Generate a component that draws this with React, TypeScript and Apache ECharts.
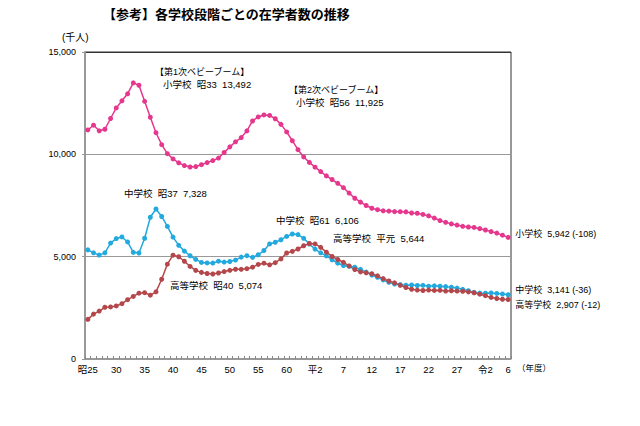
import React, { useEffect, useRef } from "react";
import * as echarts from "echarts";

// 年度 (1950 = 昭25 ... 2024 = 令6)
const years: string[] = [];
for (let y = 1950; y <= 2024; y++) years.push(String(y));

const tickIndex = [0, 5, 10, 15, 20, 25, 30, 35, 40, 45, 50, 55, 60, 65, 70, 74];
const tickText = ["昭25", "30", "35", "40", "45", "50", "55", "60", "平2", "7", "12", "17", "22", "27", "令2", "6"];

// 在学者数 (千人)
const elementary = [
  11191, 11423, 11148, 11225, 11751, 12267, 12616, 12956, 13492, 13375,
  12591, 11811, 11057, 10471, 10031, 9776, 9584, 9452, 9383, 9403,
  9493, 9596, 9696, 9816, 10089, 10365, 10610, 10819, 11146, 11630,
  11827, 11925, 11902, 11739, 11465, 11095, 10665, 10227, 9873, 9607,
  9373, 9157, 8947, 8769, 8583, 8370, 8106, 7855, 7664, 7500,
  7366, 7297, 7239, 7227, 7201, 7197, 7188, 7133, 7122, 7064,
  6993, 6887, 6765, 6677, 6601, 6543, 6484, 6449, 6428, 6369,
  6301, 6223, 6152, 6050, 5942,
];
const juniorHigh = [
  5333, 5188, 5077, 5187, 5664, 5884, 5963, 5719, 5210, 5180,
  5900, 6925, 7328, 6964, 6476, 5957, 5555, 5271, 5044, 4865,
  4717, 4694, 4688, 4780, 4735, 4762, 4833, 4978, 5048, 4966,
  5094, 5300, 5623, 5706, 5828, 5990, 6106, 6081, 5896, 5619,
  5369, 5188, 5036, 4850, 4681, 4570, 4528, 4481, 4381, 4244,
  4104, 3992, 3863, 3748, 3664, 3626, 3602, 3615, 3592, 3600,
  3558, 3574, 3553, 3536, 3504, 3465, 3406, 3333, 3252, 3218,
  3211, 3229, 3205, 3177, 3141,
];
const highSchool = [
  1935, 2193, 2342, 2528, 2545, 2592, 2703, 2898, 3057, 3216,
  3239, 3119, 3282, 3897, 4634, 5074, 4997, 4776, 4522, 4330,
  4232, 4178, 4154, 4201, 4271, 4333, 4386, 4381, 4414, 4485,
  4622, 4682, 4601, 4706, 4892, 5178, 5259, 5375, 5534, 5644,
  5623, 5455, 5219, 5010, 4862, 4725, 4547, 4371, 4258, 4212,
  4165, 4062, 3929, 3810, 3719, 3605, 3495, 3407, 3367, 3348,
  3369, 3349, 3356, 3320, 3334, 3319, 3309, 3280, 3236, 3168,
  3093, 3008, 2957, 2919, 2907,
];

const seriesNames = ["小学校", "中学校", "高等学校"];
const endNotes = ["5,942 (-108)", "3,141 (-36)", "2,907 (-12)"];

const FONT = "'Liberation Sans', 'Noto Sans CJK JP', sans-serif";
const JFONT = "'Noto Sans CJK JP', sans-serif";

export default function App() {
  const ref = useRef<HTMLDivElement>(null);
  useEffect(() => {
    if (!ref.current) return;
    const chart = echarts.init(ref.current, null, { renderer: "svg" });
    const colors = ["#E5378D", "#22A9DE", "#B4474B"];
    const datas = [elementary, juniorHigh, highSchool];
    const endOffsets = [[0, -3], [0, -5], [0, 5]];
    const note = (text: string, x: number, y: number, size = 9.5) => ({
      type: "text",
      left: x,
      top: y - size * 0.7,
      style: { text, fontSize: size, fontFamily: FONT, fill: "#000" },
    });
    chart.setOption({
      animation: false,
      textStyle: { fontFamily: FONT },
      grid: { left: 85, top: 52, right: 129, bottom: 67, show: true, borderColor: "#333", borderWidth: 1 },
      xAxis: {
        type: "category",
        data: years,
        boundaryGap: true,
        axisLine: { lineStyle: { color: "#999", width: 1.5 } },
        axisTick: { show: true, interval: 0, inside: true, length: 3, lineStyle: { color: "#888" } },
        axisLabel: {
          interval: (i: number) => tickIndex.includes(i),
          formatter: (_v: string, i: number) => {
            const k = tickIndex.indexOf(i);
            return k >= 0 ? tickText[k] : "";
          },
          fontSize: 9.5,
          color: "#000",
          margin: 6,
          fontFamily: FONT,
        },
        splitLine: { show: false },
      },
      yAxis: {
        type: "value",
        min: 0,
        max: 15000,
        interval: 5000,
        axisLine: { show: true, lineStyle: { color: "#999", width: 2 } },
        axisTick: { show: true, length: 3, lineStyle: { color: "#999" } },
        axisLabel: {
          fontSize: 9,
          color: "#000",
          margin: 9,
          fontFamily: FONT,
          formatter: (v: number) => v.toLocaleString("en-US"),
        },
        splitLine: { show: true, lineStyle: { color: ["#999", "#999", "#999", "#333"], width: 1 } },
      },
      series: datas.map((d, i) => ({
        name: seriesNames[i],
        type: "line",
        data: d,
        symbol: "circle",
        symbolSize: 5,
        showSymbol: true,
        showAllSymbol: true,
        lineStyle: { color: colors[i], width: 1.5 },
        itemStyle: { color: colors[i] },
        endLabel: {
          show: true,
          distance: 7,
          offset: endOffsets[i],
          formatter: () => seriesNames[i] + "  " + endNotes[i],
          fontSize: 9,
          color: "#000",
          fontFamily: FONT,
        },
      })),
      graphic: [
        {
          type: "text",
          left: 103,
          top: 7,
          style: { text: "【参考】各学校段階ごとの在学者数の推移", fontSize: 13, fontFamily: JFONT, fill: "#000", fontWeight: "bold" },
        },
        note("(千人)", 62, 39, 10),
        note("（年度）", 517, 370, 8.5),
        note("【第1次ベビーブーム】", 155, 73.3, 9),
        note("小学校  昭33  13,492", 163, 86.7),
        note("【第2次ベビーブーム】", 289, 92, 9),
        note("小学校  昭56  11,925", 296, 104),
        note("中学校  昭37  7,328", 124, 195.7),
        note("中学校  昭61  6,106", 276, 222.3),
        note("高等学校  平元  5,644", 333, 240.7),
        note("高等学校  昭40  5,074", 170, 287.3),
      ],
    });
    return () => chart.dispose();
  }, []);
  return <div ref={ref} style={{ position: "absolute", left: 0, top: 0, width: 640, height: 426 }} />;
}
